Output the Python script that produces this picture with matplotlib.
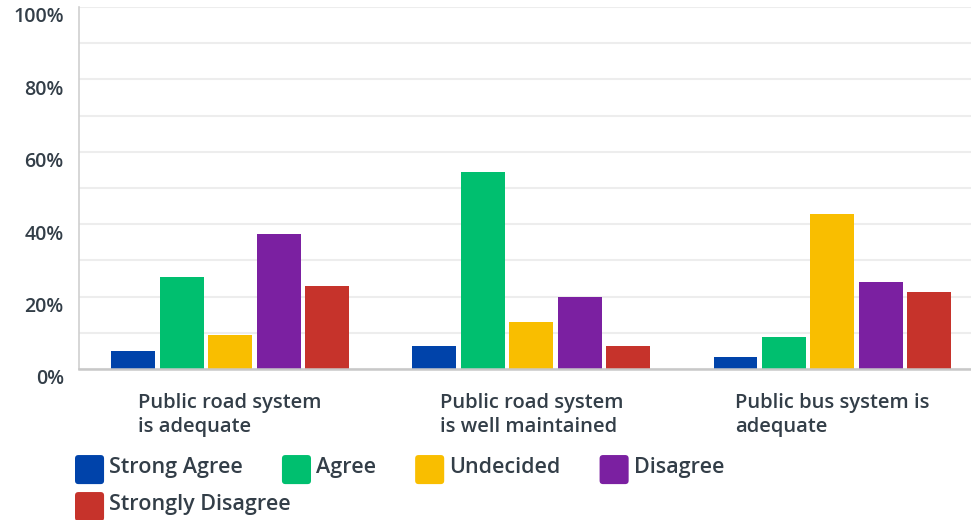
import numpy as np
import matplotlib
matplotlib.use("Agg")
import matplotlib.pyplot as plt
from matplotlib.patches import Patch, FancyBboxPatch
from matplotlib.legend_handler import HandlerPatch
from matplotlib.transforms import ScaledTranslation

# Data (percent)
categories = ["Public road system\nis adequate",
              "Public road system\nis well maintained",
              "Public bus system is\nadequate"]
series = ["Strong Agree", "Agree", "Undecided", "Disagree", "Strongly Disagree"]
strong_agree = [5.0, 6.4, 3.3]
agree = [25.4, 54.4, 8.8]
undecided = [9.4, 13.0, 42.8]
disagree = [37.3, 19.9, 24.0]
strongly_disagree = [22.9, 6.4, 21.3]
yticks = [0, 20, 40, 60, 80, 100]
ytick_labels = ["0%", "20%", "40%", "60%", "80%", "100%"]

colors = ["#0043aa", "#00bf6f", "#f9be00", "#7b20a1", "#c6332b"]
text_color = "#333e48"

plt.rcParams['font.family'] = ['Open Sans', 'DejaVu Sans']


class RoundHandler(HandlerPatch):
    # rounded square legend keys, sitting a bit below the text baseline
    def create_artists(self, legend, orig_handle, xdescent, ydescent,
                       width, height, fontsize, trans):
        p = FancyBboxPatch((-xdescent, -7.9), width, width,
                           boxstyle="round,pad=0,rounding_size=2.5",
                           facecolor=orig_handle.get_facecolor(),
                           edgecolor='none', transform=trans)
        return [p]


fig = plt.figure(figsize=(9.71, 5.2), dpi=100)
ax = fig.add_axes([79 / 971, 1 - 369 / 520, 1 - 79 / 971, 362 / 520])

x = np.arange(len(categories))
pitch = 0.161
width = 0.146
values = [strong_agree, agree, undecided, disagree, strongly_disagree]
for i, (name, vals) in enumerate(zip(series, values)):
    ax.bar(x + (i - 2) * pitch, vals, width=width, color=colors[i], label=name, zorder=3)

ax.set_ylim(0, 100)
ax.set_xlim(-0.502, 2.46)

# grid every 10%
ax.set_yticks(np.arange(10, 100, 10), minor=True)
ax.yaxis.grid(True, which='both', color='#ededed', linewidth=1.5, zorder=0)
ax.set_yticks(yticks)
ax.set_yticklabels(ytick_labels, fontsize=14, color=text_color, fontweight=600)
ax.tick_params(axis='y', which='both', length=0, pad=11)
offset = ScaledTranslation(0, -8 / 100, fig.dpi_scale_trans)
for lab in ax.get_yticklabels():
    lab.set_transform(lab.get_transform() + offset)

ax.set_xticks(x)
ax.set_xticklabels(categories, fontsize=14.5, color=text_color, fontweight=600,
                   ha='center', multialignment='left', linespacing=1.28)
ax.tick_params(axis='x', length=0, pad=17)

for s in ['top', 'right']:
    ax.spines[s].set_visible(False)
ax.spines['left'].set_color('#d0d0d0')
ax.spines['left'].set_linewidth(1.2)
ax.spines['bottom'].set_color('#c8c8c8')
ax.spines['bottom'].set_linewidth(1.8)
ax.spines['bottom'].set_zorder(4)

handles = [Patch(facecolor=c, edgecolor=c, label=n) for c, n in zip(colors, series)]
leg_kw = dict(frameon=False, handlelength=1.35, handleheight=1.35,
              handletextpad=0.25, columnspacing=1.8, borderpad=0, borderaxespad=0,
              labelcolor=text_color, prop={'weight': 600, 'size': 15.5},
              handler_map={Patch: RoundHandler()})
leg1 = fig.legend(handles=handles[:4], ncol=4, loc='center left',
                  bbox_to_anchor=(75 / 971, 1 - 466 / 520), **leg_kw)
leg2 = fig.legend(handles=handles[4:], ncol=1, loc='center left',
                  bbox_to_anchor=(75 / 971, 1 - 503 / 520), **leg_kw)

fig.savefig("out.png", dpi=100)
